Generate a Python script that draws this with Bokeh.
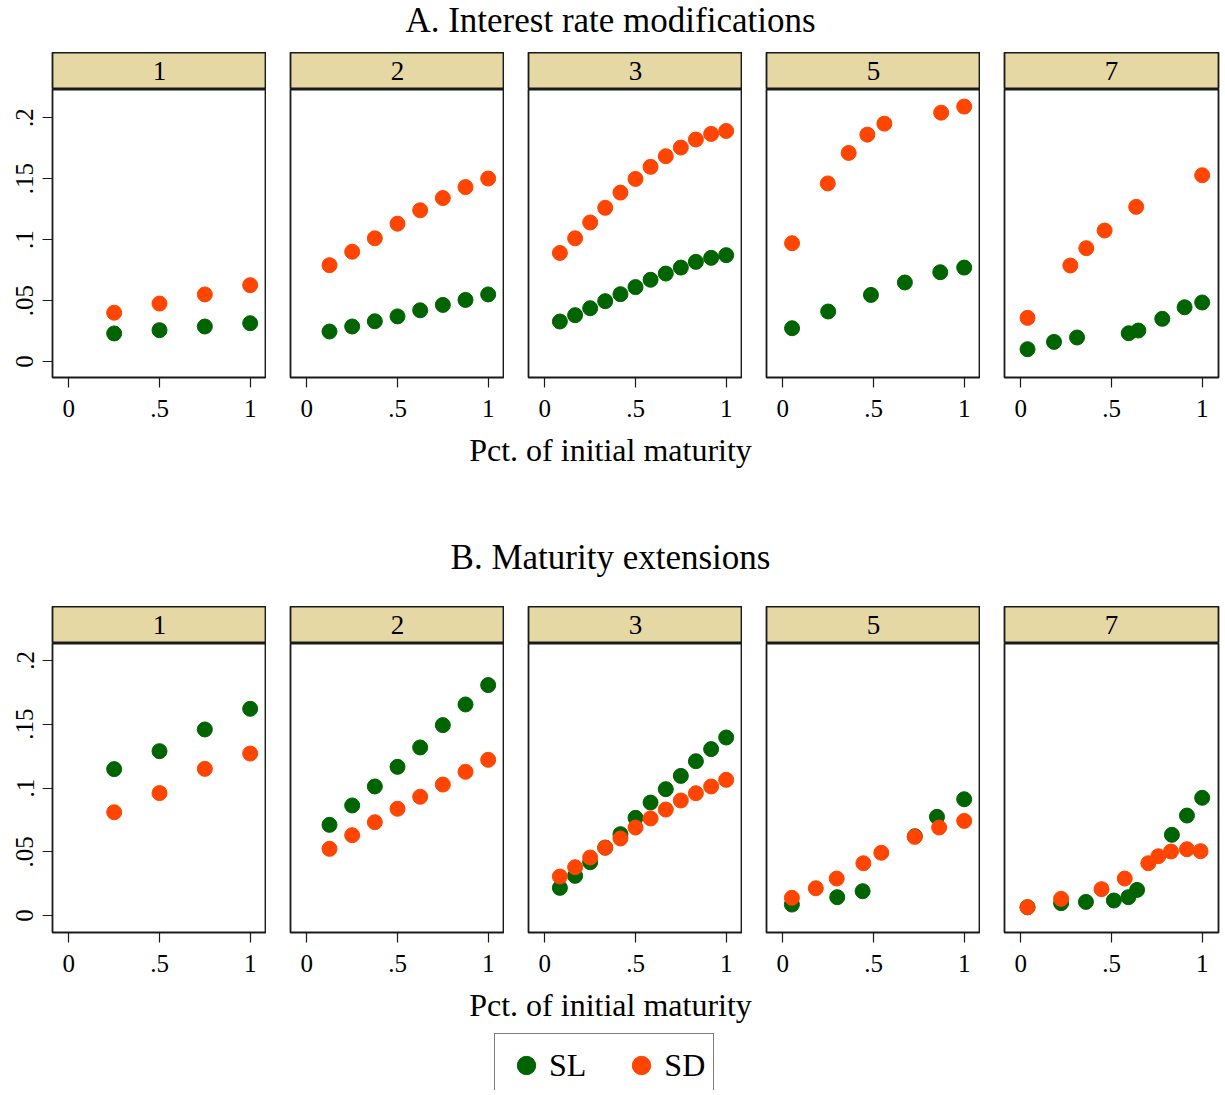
from bokeh.plotting import figure
from bokeh.layouts import column, row
from bokeh.models import (Range1d, FixedTicker, CustomJSTickFormatter, Label,
                          Legend, LegendItem)
from bokeh.embed import file_html
from bokeh.resources import INLINE

FONT = "Liberation Serif"
GREEN = "#006400"
ORANGE = "#ff4500"
STRIP = "#e5d8a5"

# ---------------- data ----------------
maturities = ["1", "2", "3", "5", "7"]
series_names = ["SL", "SD"]
x_ticks = [0, 0.5, 1]
y_ticks = [0, 0.05, 0.1, 0.15, 0.2]

x_q4 = [0.25, 0.5, 0.75, 1.0]
x_q8 = [0.125, 0.25, 0.375, 0.5, 0.625, 0.75, 0.875, 1.0]
x_q12 = [0.083, 0.167, 0.25, 0.333, 0.417, 0.5, 0.583, 0.667, 0.75, 0.833, 0.917, 1.0]

# A. Interest rate modifications
irm1_sl = [0.023, 0.0257, 0.0287, 0.0314]
irm1_sd = [0.040, 0.0475, 0.055, 0.0626]
irm2_sl = [0.0246, 0.0287, 0.033, 0.037, 0.042, 0.0464, 0.0505, 0.055]
irm2_sd = [0.079, 0.090, 0.101, 0.113, 0.124, 0.134, 0.143, 0.150]
irm3_sl = [0.0328, 0.038, 0.0437, 0.0495, 0.0552, 0.061, 0.067, 0.0721, 0.077, 0.0817, 0.085, 0.0872]
irm3_sd = [0.089, 0.101, 0.114, 0.126, 0.1385, 0.1497, 0.1596, 0.1683, 0.1754, 0.182, 0.1866, 0.189]
irm5_sl_x = [0.051, 0.25, 0.486, 0.673, 0.868, 1.0]
irm5_sl = [0.0273, 0.041, 0.0546, 0.0648, 0.0732, 0.077]
irm5_sd_x = [0.051, 0.248, 0.363, 0.466, 0.56, 0.873, 1.0]
irm5_sd = [0.097, 0.146, 0.171, 0.186, 0.195, 0.204, 0.209]
irm7_sl_x = [0.037, 0.183, 0.31, 0.595, 0.648, 0.78, 0.903, 1.0]
irm7_sl = [0.0101, 0.0161, 0.0197, 0.0232, 0.0254, 0.035, 0.0445, 0.0484]
irm7_sd_x = [0.037, 0.273, 0.361, 0.462, 0.636, 1.0]
irm7_sd = [0.0358, 0.0787, 0.0929, 0.1074, 0.1268, 0.1527]

# B. Maturity extensions
ext1_sl = [0.1148, 0.1289, 0.1459, 0.1621]
ext1_sd = [0.081, 0.096, 0.115, 0.127]
ext2_sl = [0.0711, 0.0863, 0.1012, 0.1166, 0.1318, 0.1493, 0.1655, 0.1807]
ext2_sd = [0.0523, 0.063, 0.0732, 0.0837, 0.0931, 0.1027, 0.1127, 0.1221]
ext3_sl = [0.0217, 0.0311, 0.0418, 0.0533, 0.0638, 0.0766, 0.0886, 0.0991, 0.1095, 0.121, 0.1305, 0.1396]
ext3_sd = [0.0306, 0.0379, 0.0455, 0.0531, 0.0604, 0.069, 0.0761, 0.0831, 0.0902, 0.0959, 0.1012, 0.1064]
ext5_sl_x = [0.05, 0.30, 0.44, 0.728, 0.85, 1.0]
ext5_sl = [0.0086, 0.0144, 0.0191, 0.0622, 0.0774, 0.0912]
ext5_sd_x = [0.05, 0.182, 0.297, 0.444, 0.543, 0.727, 0.862, 1.0]
ext5_sd = [0.0139, 0.0214, 0.029, 0.041, 0.0492, 0.0617, 0.069, 0.0742]
ext7_sl_x = [0.037, 0.222, 0.359, 0.513, 0.593, 0.641, 0.833, 0.916, 1.0]
ext7_sl = [0.0065, 0.0097, 0.0107, 0.0118, 0.0144, 0.0201, 0.0633, 0.0784, 0.0923]
ext7_sd_x = [0.037, 0.222, 0.445, 0.573, 0.703, 0.758, 0.828, 0.916, 0.991]
ext7_sd = [0.0065, 0.0131, 0.0207, 0.029, 0.041, 0.0465, 0.0502, 0.052, 0.0505]

panels_A = [
    (x_q4, irm1_sl, x_q4, irm1_sd),
    (x_q8, irm2_sl, x_q8, irm2_sd),
    (x_q12, irm3_sl, x_q12, irm3_sd),
    (irm5_sl_x, irm5_sl, irm5_sd_x, irm5_sd),
    (irm7_sl_x, irm7_sl, irm7_sd_x, irm7_sd),
]
panels_B = [
    (x_q4, ext1_sl, x_q4, ext1_sd),
    (x_q8, ext2_sl, x_q8, ext2_sd),
    (x_q12, ext3_sl, x_q12, ext3_sd),
    (ext5_sl_x, ext5_sl, ext5_sd_x, ext5_sd),
    (ext7_sl_x, ext7_sl, ext7_sd_x, ext7_sd),
]

# ---------------- layout constants ----------------
FW = 214
LB_FIRST = 52
LB = 24
RB_LAST = 2
W = LB_FIRST + FW + 4 * (LB + FW) + RB_LAST
BOTTOM = 56
STRIP_H = 37
MS = 15

fmt_code = "return String(tick).replace(/^0\\./, '.');"


def base_fig(width, height, **kw):
    p = figure(width=width, height=height, output_backend="svg",
               toolbar_location=None, tools="", **kw)
    p.xgrid.visible = False
    p.ygrid.visible = False
    return p


def text_fig(txt, height, yfrac, size):
    p = base_fig(W, height, x_range=Range1d(0, 1), y_range=Range1d(0, 1),
                 x_axis_location=None, y_axis_location=None, min_border=0)
    p.outline_line_color = None
    p.add_layout(Label(x=0.5, y=yfrac, text=txt, text_align="center",
                       text_baseline="middle", text_font=FONT,
                       text_font_size=size, text_color="black"))
    return p


def strip_row(labels):
    figs = []
    for i, lab in enumerate(labels):
        lb = LB_FIRST if i == 0 else LB
        rb = RB_LAST if i == len(labels) - 1 else 0
        p = base_fig(lb + FW + rb, STRIP_H, x_range=Range1d(0, 1), y_range=Range1d(0, 1),
                     x_axis_location=None, y_axis_location=None,
                     min_border_left=lb, min_border_right=rb,
                     min_border_top=0, min_border_bottom=0)
        p.background_fill_color = STRIP
        p.outline_line_color = "#1a1a1a"
        p.outline_line_width = 1.8
        p.add_layout(Label(x=0.5, y=0.5, text=lab, text_align="center",
                           text_baseline="middle", text_font=FONT,
                           text_font_size="27px", text_color="black"))
        figs.append(p)
    return row(*figs, spacing=0)


def panel_row(panels, ylo, yhi, fh):
    figs = []
    for i, (slx, sly, sdx, sdy) in enumerate(panels):
        first = i == 0
        lb = LB_FIRST if first else LB
        rb = RB_LAST if i == len(panels) - 1 else 0
        p = base_fig(lb + FW + rb, fh + BOTTOM,
                     x_range=Range1d(-0.09, 1.09), y_range=Range1d(ylo, yhi),
                     y_axis_location="left" if first else None,
                     min_border_left=lb, min_border_right=rb,
                     min_border_top=0, min_border_bottom=BOTTOM)
        p.outline_line_color = "#1a1a1a"
        p.outline_line_width = 1.8
        p.scatter(slx, sly, size=MS, fill_color=GREEN, line_color=GREEN)
        p.scatter(sdx, sdy, size=MS, fill_color=ORANGE, line_color=ORANGE)
        ax = p.xaxis[0]
        ax.ticker = FixedTicker(ticks=x_ticks)
        ax.formatter = CustomJSTickFormatter(code=fmt_code)
        ax.major_label_standoff = 12
        axes = [ax]
        if first:
            ay = p.yaxis[0]
            ay.ticker = FixedTicker(ticks=y_ticks)
            ay.formatter = CustomJSTickFormatter(code=fmt_code)
            ay.major_label_orientation = "vertical"
            ay.major_label_standoff = 9
            axes.append(ay)
        for a in axes:
            a.axis_line_color = None
            a.major_tick_out = 10
            a.major_tick_in = 0
            a.minor_tick_out = 0
            a.minor_tick_in = 0
            a.major_tick_line_color = "#1a1a1a"
            a.major_tick_line_width = 1.2
            a.major_label_text_font = FONT
            a.major_label_text_font_size = "25px"
            a.major_label_text_color = "black"
        figs.append(p)
    return row(*figs, spacing=0)


def legend_fig(height):
    p = base_fig(W, height, x_range=Range1d(0, 1), y_range=Range1d(0, 1),
                 x_axis_location=None, y_axis_location=None, min_border=0)
    p.outline_line_color = None
    # legend keys (renderers hidden; only their legend glyphs are drawn)
    r1 = p.scatter(x_q4, ext1_sl, fill_color=GREEN, line_color=GREEN, visible=False)
    r2 = p.scatter(x_q4, ext1_sd, fill_color=ORANGE, line_color=ORANGE, visible=False)
    leg = Legend(items=[LegendItem(label=series_names[0], renderers=[r1]),
                        LegendItem(label=series_names[1], renderers=[r2])],
                 orientation="horizontal", location=(LB_FIRST + 442, -7), margin=0,
                 padding=8, spacing=32, label_standoff=0,
                 glyph_width=46, glyph_height=46,
                 label_text_font=FONT, label_text_font_size="32px",
                 label_text_color="black",
                 border_line_color="black", border_line_width=1.5,
                 background_fill_alpha=1.0)
    p.add_layout(leg)
    return p


layout = column(
    text_fig("A. Interest rate modifications", 52, 0.615, "35px"),
    strip_row(maturities),
    panel_row(panels_A, -0.0131, 0.223, 288),
    text_fig("Pct. of initial maturity", 44, 0.615, "32px"),
    text_fig("B. Maturity extensions", 129, 0.38, "35px"),
    strip_row(maturities),
    panel_row(panels_B, -0.0133, 0.2133, 289),
    text_fig("Pct. of initial maturity", 44, 0.615, "32px"),
    legend_fig(58),
    spacing=0,
)

open("out.html", "w").write(file_html(layout, INLINE))
